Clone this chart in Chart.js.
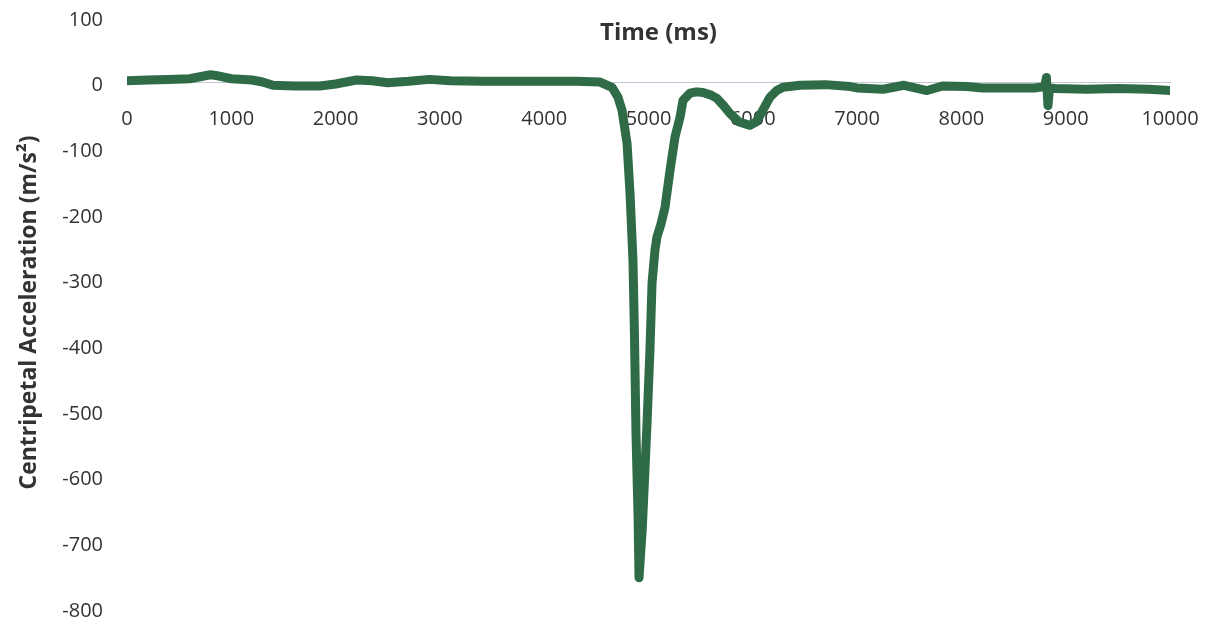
<!DOCTYPE html>
<html>
<head>
<meta charset="utf-8">
<script src="https://cdn.jsdelivr.net/npm/chart.js@4"></script>
<style>
  html, body { margin: 0; padding: 0; background: #fff; }
  #wrap { width: 1209px; height: 624px; }
</style>
</head>
<body>
<div id="wrap"><canvas id="myChart"></canvas></div>
<script>
"use strict";

// time in ms, centripetal acceleration in m/s^2
const timeMs = [
  0, 200, 400, 600, 800, 850, 1000, 1200, 1300, 1400, 1600, 1850, 2000, 2200, 2350,
  2500, 2700, 2900, 3100, 3400, 3700, 4000, 4300, 4535, 4650, 4707, 4746, 4794, 4823,
  4851, 4865, 4880, 4900, 4909, 4940, 4967, 4986, 5014, 5034, 5062, 5081, 5120, 5158,
  5206, 5254, 5302, 5331, 5398, 5460, 5522, 5600, 5657, 5720, 5781, 5870, 5973, 6030,
  6069, 6120, 6165, 6230, 6290, 6453, 6700, 6932, 7000, 7250, 7450, 7670, 7820, 8050,
  8200, 8500, 8700, 8800, 8815, 8830, 8845, 8900, 9200, 9500, 9800, 10000
];
const accel = [
  3, 4, 5, 6, 12, 11, 6, 4, 1, -4, -5, -5, -2, 4, 3,
  0, 2, 5, 3, 2, 2, 2, 2, 1, -7, -22, -42, -92, -169,
  -270, -380, -534, -661, -754, -680, -586, -518, -407, -305, -255, -235, -215, -190,
  -134, -83, -53, -27, -16, -14, -15, -19, -24, -35, -47, -60, -65, -60,
  -50, -35, -22, -12, -7, -4, -3, -6, -8, -10, -4, -12, -5, -6,
  -8, -8, -8, -6, 8, -35, -8, -9, -10, -9, -10, -12
];

const xTitle = "Time (ms)";
const yTitle = "Centripetal Acceleration (m/s\u00B2)";
const yMin = -800;
const yMax = 100;

const ctx = document.getElementById("myChart");
const points = timeMs.map((t, i) => ({ x: t, y: accel[i] }));

// x-axis title sits on top of the plot, near the zero line
const topTitle = {
  id: "topTitle",
  afterDraw(chart) {
    const c = chart.ctx;
    const area = chart.chartArea;
    c.save();
    c.font = "bold 24px 'Open Sans'";
    c.fillStyle = "#333";
    c.textAlign = "center";
    c.textBaseline = "middle";
    c.fillText(xTitle, (area.left + area.right) / 2 + 10, 33);
    c.restore();
  },
};

new Chart(ctx, {
  type: "line",
  data: {
    datasets: [
      {
        label: "Acceleration",
        data: points,
        borderColor: "#2e6b46",
        borderWidth: 9,
        borderJoinStyle: "round",
        borderCapStyle: "round",
        pointRadius: 0,
        tension: 0,
        fill: false,
      },
    ],
  },
  options: {
    responsive: true,
    maintainAspectRatio: false,
    animation: false,
    layout: {
      padding: { left: 0, right: 39, top: 17, bottom: 16 },
    },
    plugins: {
      legend: { display: false },
      tooltip: { enabled: false },
    },
    scales: {
      x: {
        type: "linear",
        position: { y: 0 },
        min: 0,
        max: 10000,
        afterFit(scale) {
          scale.height = 0;
        },
        // invisible tick marks push the labels below the zero line
        grid: {
          drawOnChartArea: false,
          tickLength: 25,
          tickColor: "rgba(0,0,0,0)",
        },
        border: { display: true, color: "#c4c6d8", width: 1 },
        ticks: {
          stepSize: 1000,
          padding: 0,
          maxRotation: 0,
          color: "#333",
          font: { family: "'Open Sans'", size: 20 },
          callback: (v) => String(v),
        },
      },
      y: {
        min: yMin,
        max: yMax,
        afterFit(scale) {
          scale.width = 127;
        },
        grid: {
          drawOnChartArea: false,
          tickLength: 22,
          tickColor: "rgba(0,0,0,0)",
        },
        border: { display: false },
        ticks: {
          stepSize: 100,
          padding: 2,
          labelOffset: 3,
          color: "#333",
          font: { family: "'Open Sans'", size: 20 },
        },
        title: {
          display: true,
          text: yTitle,
          color: "#333",
          padding: { top: 16, bottom: 0 },
          font: { family: "'Open Sans'", size: 23, weight: "bold" },
        },
      },
    },
  },
  plugins: [topTitle],
});
</script>
</body>
</html>
